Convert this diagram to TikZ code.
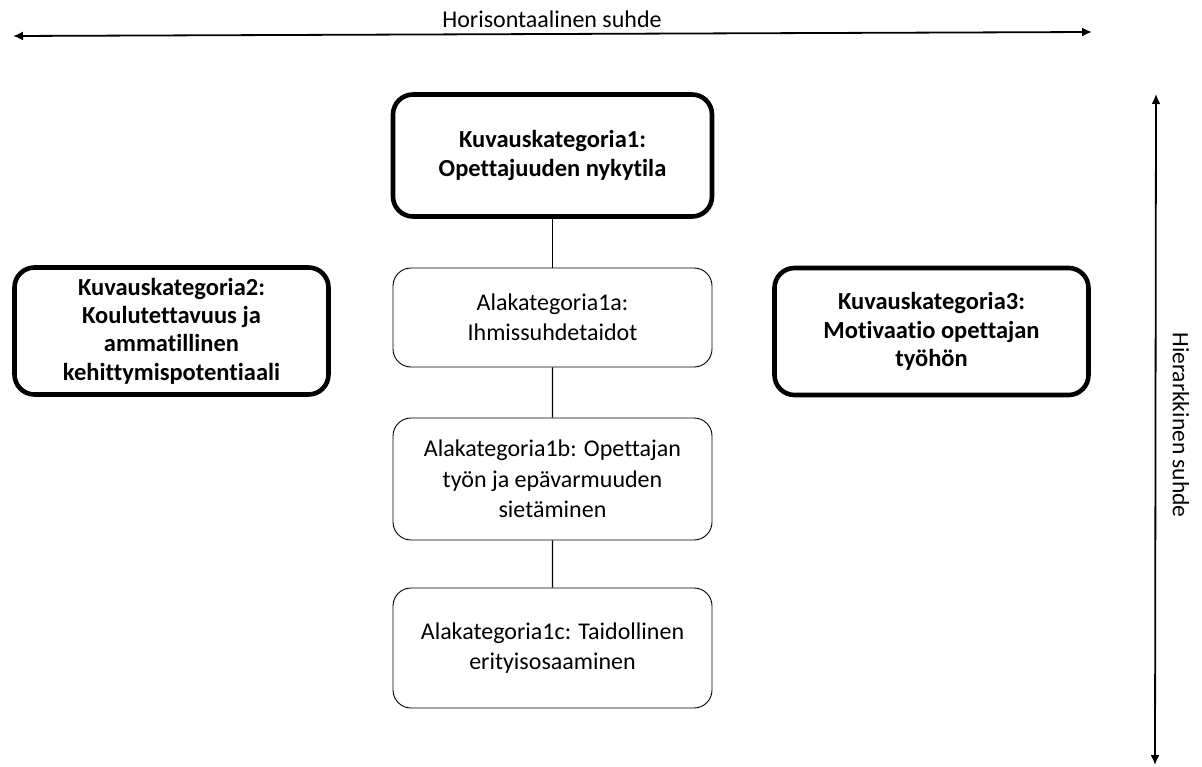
\documentclass[tikz,border=0pt]{standalone}
\usepackage{fontspec}
\setmainfont{Carlito}[Ligatures=NoCommon]
\usetikzlibrary{trees,arrows.meta}

\begin{document}
\begin{tikzpicture}[x=1pt,y=1pt,
      edge from parent/.style={draw,line width=1.4pt},
      kategoria/.style={draw,line width=4.6pt,rounded corners=20pt,align=center,
        font=\fontsize{24.5}{28.3}\selectfont\bfseries,minimum width=314pt,minimum height=127pt},
      alakategoria/.style={draw,line width=0.9pt,rounded corners=18pt,align=center,
        font=\fontsize{24}{30.5}\selectfont,minimum width=319pt},
      suhde/.style={line width=1.8pt,{Latex[length=10pt,width=9pt]}-{Latex[length=10pt,width=9pt]}},
      level 1/.style={level distance=162pt},
      level 2/.style={level distance=161.5pt},
      level 3/.style={level distance=169pt}
    ]
    \useasboundingbox (0,0) rectangle (1202,-767);
    \node[kategoria,minimum width=319pt,minimum height=122pt] (kat1) at (552.5,-155.5)
        {Kuvauskategoria1:\\Opettajuuden nykytila}
        child {node[alakategoria,minimum height=99pt] (ala1a)
            {Alakategoria1a:\\Ihmissuhdetaidot}
            child {node[alakategoria,minimum height=122pt] (ala1b)
                {Alakategoria1b: Opettajan\\työn ja epävarmuuden\\sietäminen}
                child {node[alakategoria,minimum height=120pt] (ala1c)
                    {Alakategoria1c: Taidollinen\\erityisosaaminen}
                }
            }
        };
    \node[kategoria] (kat2) at (171.5,-331)
        {Kuvauskategoria2:\\Koulutettavuus ja\\ammatillinen\\kehittymispotentiaali};
    \node[kategoria] (kat3) at (931.5,-331.5)
        {Kuvauskategoria3:\\Motivaatio opettajan\\työhön};
    \coordinate (vasen) at (13,-36);
    \coordinate (oikea) at (1092,-32);
    \coordinate (ylos) at (1156,-94);
    \coordinate (alas) at (1155,-765);
    \draw[suhde] (vasen) -- (oikea);
    \draw[suhde] (ylos) -- (alas);
    \node[font=\fontsize{24}{28}\selectfont] (vaaka) at (552,-19) {Horisontaalinen suhde};
    \node[font=\fontsize{23.5}{28}\selectfont,rotate=-90] (pysty) at (1181,-425) {Hierarkkinen suhde};
\end{tikzpicture}
\end{document}
